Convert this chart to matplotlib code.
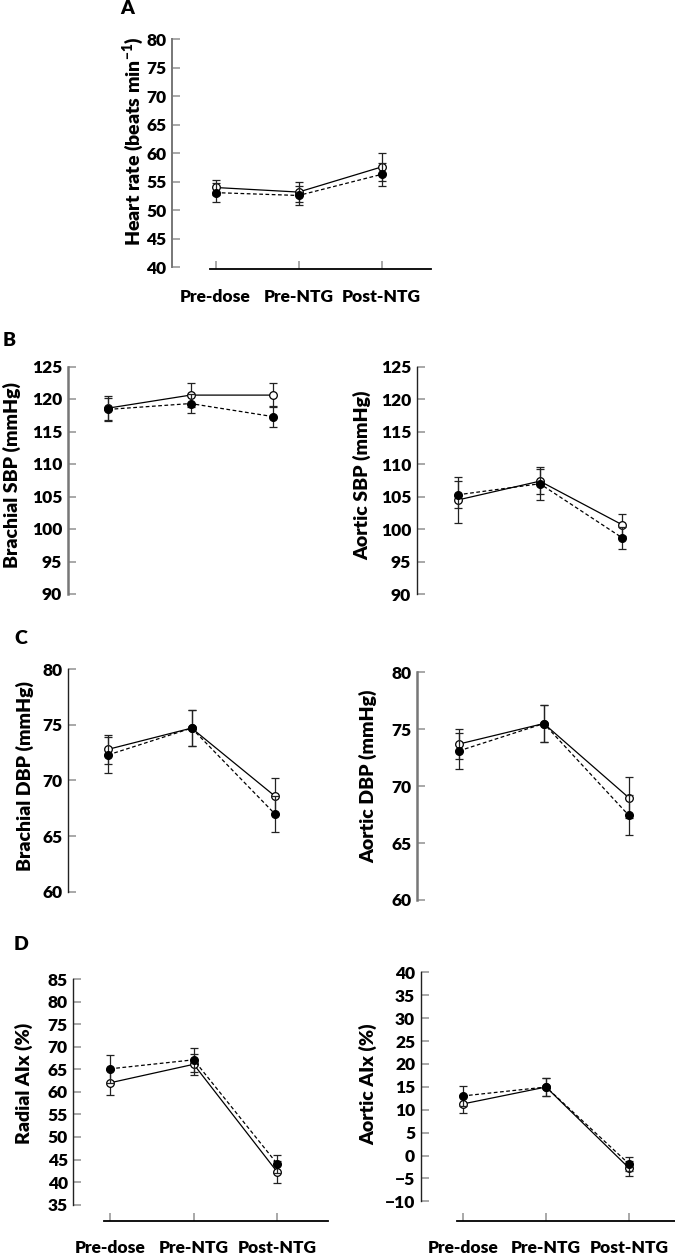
import numpy as np
import matplotlib.pyplot as plt

WEIGHT = 'heavy'
plt.rcParams['font.family'] = ['Lato', 'DejaVu Sans']
plt.rcParams['font.weight'] = WEIGHT
plt.rcParams['mathtext.fontset'] = 'custom'
plt.rcParams['mathtext.rm'] = 'Lato:heavy'
plt.rcParams['mathtext.it'] = 'Lato:heavy'
plt.rcParams['mathtext.bf'] = 'Lato:heavy'

W, H = 675, 1258
categories = ['Pre-dose', 'Pre-NTG', 'Post-NTG']

# open circle / solid line series and filled circle / dashed line series (mean, SE)
hr_open = [54.0, 53.2, 57.6]
hr_open_err = [1.4, 1.8, 2.4]
hr_filled = [53.1, 52.6, 56.3]
hr_filled_err = [1.7, 1.7, 2.0]

bsbp_open = [118.6, 120.6, 120.6]
bsbp_open_err = [1.8, 1.8, 1.8]
bsbp_filled = [118.4, 119.3, 117.3]
bsbp_filled_err = [1.8, 1.5, 1.6]

asbp_open = [104.5, 107.4, 100.7]
asbp_open_err = [3.5, 1.9, 1.7]
asbp_filled = [105.3, 107.0, 98.7]
asbp_filled_err = [2.1, 2.5, 1.7]

bdbp_open = [72.8, 74.7, 68.6]
bdbp_open_err = [1.3, 1.65, 1.6]
bdbp_filled = [72.3, 74.7, 67.0]
bdbp_filled_err = [1.6, 1.65, 1.65]

adbp_open = [73.7, 75.5, 69.0]
adbp_open_err = [1.3, 1.6, 1.8]
adbp_filled = [73.1, 75.5, 67.45]
adbp_filled_err = [1.6, 1.6, 1.75]

raix_open = [62.0, 66.1, 42.2]
raix_open_err = [2.8, 2.3, 2.4]
raix_filled = [65.1, 67.1, 44.0]
raix_filled_err = [3.1, 2.7, 2.0]

aaix_open = [11.25, 14.95, -2.8]
aaix_open_err = [2.0, 2.0, 1.6]
aaix_filled = [13.0, 14.95, -1.9]
aaix_filled_err = [2.2, 2.0, 1.5]

# panel layout in pixels: spine x, first category x, category spacing, right edge,
# y of top limit, y of bottom limit
panels = [
    dict(o=hr_open, oe=hr_open_err, f=hr_filled, fe=hr_filled_err,
         ylim=(40, 80), step=5, ylabel='Heart rate (beats min$^{-1}$)',
         sx=172, c0=215.5, dx=83, right=431, ytop=39.3, ybot=267.3,
         xaxis=2, lab=(133, 141), spine=('#777777', 1.4)),
    dict(o=bsbp_open, oe=bsbp_open_err, f=bsbp_filled, fe=bsbp_filled_err,
         ylim=(90, 125), step=5, ylabel='Brachial SBP (mmHg)',
         sx=67.7, c0=108.3, dx=82.2, right=322, ytop=366.5, ybot=594,
         xaxis=None, lab=(12, 475), spine=('#777777', 1.8)),
    dict(o=asbp_open, oe=asbp_open_err, f=asbp_filled, fe=asbp_filled_err,
         ylim=(90, 125), step=5, ylabel='Aortic SBP (mmHg)',
         sx=416.7, c0=457.7, dx=82.2, right=671, ytop=366.7, ybot=594.3,
         xaxis=None, lab=(362, 475), spine=('#222222', 1.0)),
    dict(o=bdbp_open, oe=bdbp_open_err, f=bdbp_filled, fe=bdbp_filled_err,
         ylim=(60, 80), step=5, ylabel='Brachial DBP (mmHg)',
         sx=68.3, c0=108.3, dx=83.3, right=322, ytop=669, ybot=892,
         xaxis=None, lab=(25, 776), spine=('#222222', 1.0)),
    dict(o=adbp_open, oe=adbp_open_err, f=adbp_filled, fe=adbp_filled_err,
         ylim=(60, 80), step=5, ylabel='Aortic DBP (mmHg)',
         sx=416.7, c0=459, dx=84.8, right=671, ytop=672.3, ybot=900,
         xaxis=None, lab=(368, 776), spine=('#777777', 1.8)),
    dict(o=raix_open, oe=raix_open_err, f=raix_filled, fe=raix_filled_err,
         ylim=(35, 85), step=5, ylabel='Radial AIx (%)',
         sx=73.3, c0=110, dx=83.7, right=330, ytop=979, ybot=1204.7,
         xaxis=16, lab=(24, 1083), spine=('#222222', 1.0)),
    dict(o=aaix_open, oe=aaix_open_err, f=aaix_filled, fe=aaix_filled_err,
         ylim=(-10, 40), step=5, ylabel='Aortic AIx (%)',
         sx=420.7, c0=462.7, dx=83.3, right=675, ytop=972.3, ybot=1201.3,
         xaxis=19.4, lab=(368, 1084), spine=('#222222', 1.0)),
]

panel_letters = [('A', 127, 9), ('B', 9, 340), ('C', 21, 638), ('D', 21, 944)]

fig = plt.figure(figsize=(W / 100, H / 100), dpi=100)
x = np.arange(len(categories))

for p in panels:
    rect = [p['sx'] / W, 1 - p['ybot'] / H, (p['right'] - p['sx']) / W,
            (p['ybot'] - p['ytop']) / H]
    ax = fig.add_axes(rect)
    ax.patch.set_alpha(0)

    ax.errorbar(x, p['o'], yerr=p['oe'], fmt='-o', color='black', lw=0.9,
                mfc='white', mec='black', mew=0.9, ms=5.5,
                ecolor='#222222', elinewidth=0.9, capsize=3, capthick=0.9, zorder=3)
    ax.errorbar(x, p['f'], yerr=p['fe'], fmt='--o', color='black', lw=0.9,
                mfc='black', mec='black', ms=5.5, dashes=(3, 2),
                ecolor='#222222', elinewidth=0.9, capsize=3, capthick=0.9, zorder=4)

    ax.set_xlim((p['sx'] - p['c0']) / p['dx'], (p['right'] - p['c0']) / p['dx'])
    ax.set_ylim(*p['ylim'])
    ax.set_yticks(np.arange(p['ylim'][0], p['ylim'][1] + 0.1, p['step']))

    for s in ['top', 'right']:
        ax.spines[s].set_visible(False)
    ax.spines['left'].set_color(p['spine'][0])
    ax.spines['left'].set_linewidth(p['spine'][1])
    ax.tick_params(axis='y', direction='in', length=6, width=1.2,
                   color='#999999', pad=4, labelsize=12.5)
    for t in ax.get_yticklabels():
        t.set_fontweight(WEIGHT)

    if p['xaxis'] is None:
        ax.spines['bottom'].set_visible(False)
        ax.set_xticks([])
    else:
        ax.spines['bottom'].set_position(('outward', p['xaxis'] * 0.72))
        ax.spines['bottom'].set_bounds(-0.07, 2.6)
        ax.spines['bottom'].set_linewidth(1.3)
        ax.set_xticks(x)
        ax.set_xticklabels(categories, fontweight=WEIGHT)
        ax.tick_params(axis='x', direction='in', length=6, width=1.2,
                       color='#999999', pad=14, labelsize=12.5)

    fig.text(p['lab'][0] / W, 1 - p['lab'][1] / H, p['ylabel'], rotation=90,
             ha='center', va='center', fontsize=14, fontweight=WEIGHT)

for letter, lx, ly in panel_letters:
    fig.text(lx / W, 1 - ly / H, letter, ha='center', va='center',
             fontsize=14, fontweight=WEIGHT)

fig.savefig('out.png', dpi=100)
